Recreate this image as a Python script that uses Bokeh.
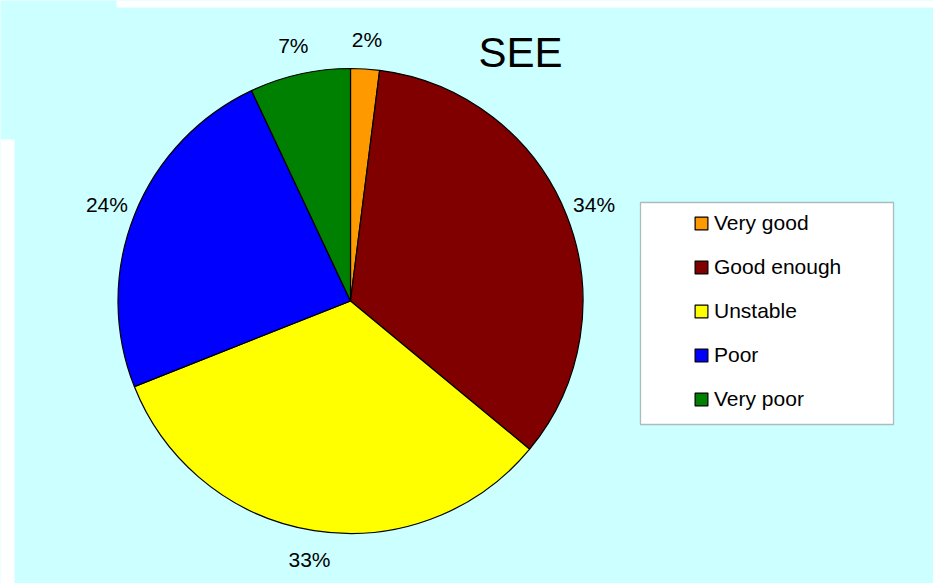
import math
from bokeh.plotting import figure
from bokeh.models import ColumnDataSource, Range1d, Legend, LegendItem, Label, BoxAnnotation
from bokeh.embed import file_html
from bokeh.resources import INLINE

# ---- data ----
categories = ["Very good", "Good enough", "Unstable", "Poor", "Very poor"]
values = [2, 34, 33, 24, 7]
colors = ["#FF9900", "#800000", "#FFFF00", "#0000FF", "#008000"]
title_text = "SEE"

W, H = 933, 583
BG = "#CCFFFF"
FONT = "Liberation Sans"

p = figure(width=W, height=H, output_backend="svg", toolbar_location=None,
           x_range=Range1d(0, W), y_range=Range1d(0, H), min_border=0,
           background_fill_color=BG, border_fill_color=BG, outline_line_color=None)
p.axis.visible = False
p.grid.visible = False

# white strips at the edges (as in the reference)
p.add_layout(BoxAnnotation(left=0, right=14, bottom=0, top=444, fill_color="white",
                           fill_alpha=1, line_color=None, level="underlay"))
p.add_layout(BoxAnnotation(left=116, right=W, bottom=576, top=H, fill_color="white",
                           fill_alpha=1, line_color=None, level="underlay"))

cx, cy, r = 350, 282.5, 232.5
total = float(sum(values))
starts, ends, mids = [], [], []
cum = 0.0
for v in values:
    f0 = cum / total
    cum += v
    f1 = cum / total
    starts.append(math.pi / 2 - 2 * math.pi * f0)
    ends.append(math.pi / 2 - 2 * math.pi * f1)
    mids.append(2 * math.pi * (f0 + f1) / 2)

src = ColumnDataSource(dict(category=categories, value=values, color=colors,
                            start=starts, end=ends))
wr = p.wedge(x=cx, y=cy, radius=r, start_angle="start", end_angle="end",
             direction="clock", fill_color="color", line_color="black",
             line_width=1.2, source=src)

# percentage labels outside the pie
R = 262
lab_src = ColumnDataSource(dict(
    x=[cx + R * math.sin(m) for m in mids],
    y=[cy + R * math.cos(m) for m in mids],
    text=[f"{v}%" for v in values]))
p.text(x="x", y="y", text="text", source=lab_src, text_align="center",
       text_baseline="middle", text_font_size="21px", text_color="black",
       text_font={"value": FONT})

# title
p.add_layout(Label(x=520, y=531, text=title_text, text_align="center",
                   text_baseline="alphabetic", text_font_size="42px",
                   text_font=FONT, text_color="black"))

# legend box
p.add_layout(BoxAnnotation(left=640, right=893, bottom=159, top=381,
                           fill_color="white", fill_alpha=1,
                           line_color="#222222", line_width=1.3, level="underlay"))

items = [LegendItem(label=c, renderers=[wr], index=i) for i, c in enumerate(categories)]
legend = Legend(items=items, location=(693, 172), orientation="vertical",
                background_fill_alpha=0, border_line_alpha=0,
                padding=0, margin=0, spacing=20, label_standoff=5,
                glyph_width=16, glyph_height=16, label_height=24,
                label_text_font_size="21px", label_text_font=FONT,
                label_text_color="black")
p.add_layout(legend)

open("out.html", "w").write(file_html(p, INLINE))
